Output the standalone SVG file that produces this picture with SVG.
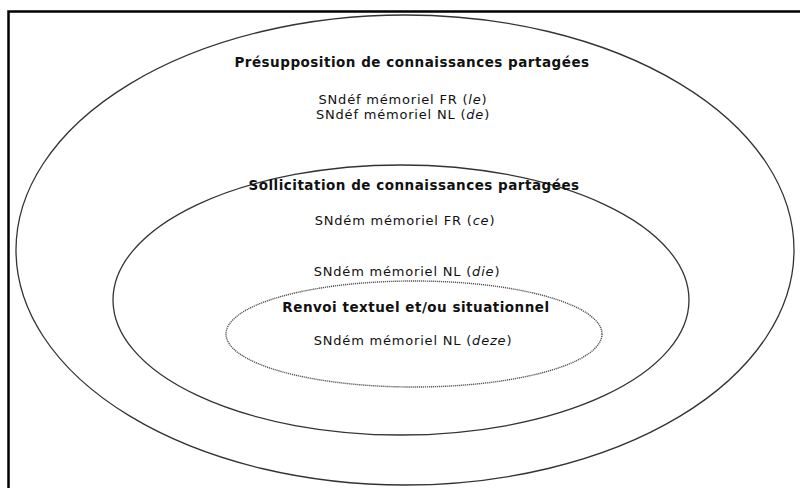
<svg xmlns="http://www.w3.org/2000/svg" width="800" height="488" viewBox="0 0 800 488">
<style>
.ell{fill:none;stroke:#333;stroke-width:1.3}
.dot{fill:none;stroke:#555;stroke-width:1.4;stroke-dasharray:1.2 0.8}
.t{font-family:"DejaVu Sans",Verdana,sans-serif;font-size:13px;letter-spacing:0.8px;fill:#111;text-anchor:middle}
.b{font-family:"DejaVu Sans",Verdana,sans-serif;font-size:13.5px;letter-spacing:0.5px;font-weight:bold;fill:#111;text-anchor:middle}
.i{font-style:italic}
</style>
<rect x="0" y="0" width="800" height="488" fill="#fff"/>
<path d="M8.5,490 V11.5 H802" fill="none" stroke="#000" stroke-width="2.5"/>
<g id="outer">
<ellipse class="ell" cx="405" cy="250" rx="389" ry="235"/>
<text class="b" x="412" y="67">Présupposition de connaissances partagées</text>
<text class="t" x="403" y="104">SNdéf mémoriel FR (<tspan class="i">le</tspan>)</text>
<text class="t" x="403" y="119">SNdéf mémoriel NL (<tspan class="i">de</tspan>)</text>
</g>
<g id="middle">
<ellipse class="ell" cx="401" cy="300" rx="288" ry="135"/>
<text class="b" x="414" y="190">Sollicitation de connaissances partagées</text>
<text class="t" x="405" y="225">SNdém mémoriel FR (<tspan class="i">ce</tspan>)</text>
<text class="t" x="407" y="276">SNdém mémoriel NL (<tspan class="i">die</tspan>)</text>
</g>
<g id="inner">
<ellipse class="dot" cx="414" cy="334" rx="188" ry="53"/>
<text class="b" x="416" y="312">Renvoi textuel et/ou situationnel</text>
<text class="t" x="413" y="345">SNdém mémoriel NL (<tspan class="i">deze</tspan>)</text>
</g>
<g id="connectors"/>
</svg>
